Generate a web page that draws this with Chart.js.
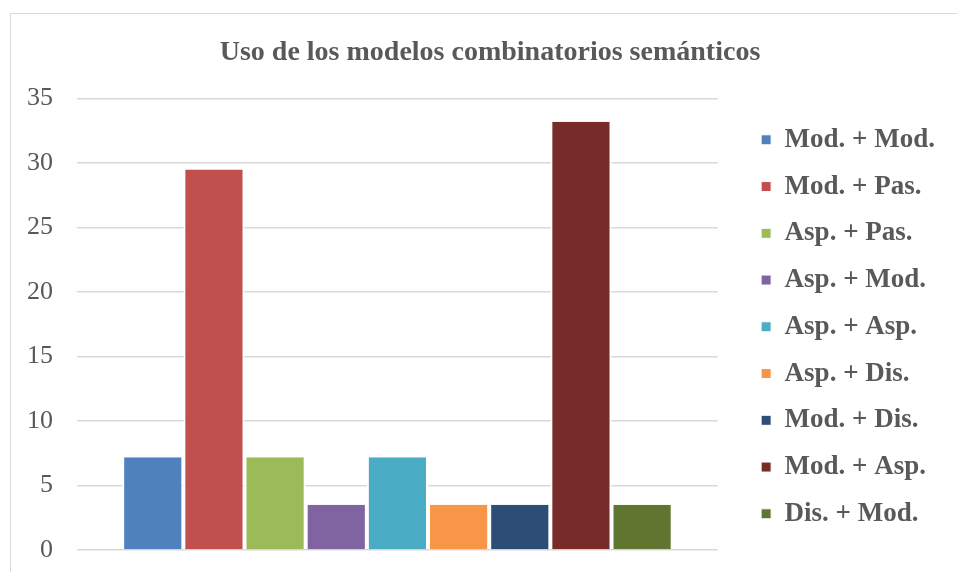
<!DOCTYPE html>
<html><head><meta charset="utf-8">
<script src="https://cdn.jsdelivr.net/npm/chart.js@4/dist/chart.umd.min.js"></script>
<style>
html,body{margin:0;padding:0;background:#fff;}
#wrap{position:relative;width:957px;height:572px;overflow:hidden;}
#frame{position:absolute;left:10px;top:13px;width:1000px;height:600px;border:1px solid #d9d9d9;box-sizing:border-box;}
canvas{position:absolute;left:0;top:0;}
</style></head>
<body><div id="wrap"><div id="frame"></div><canvas id="c" width="957" height="572"></canvas></div>
<script>
const title = 'Uso de los modelos combinatorios semánticos';
const categories = [''];
const seriesNames = ['Mod. + Mod.','Mod. + Pas.','Asp. + Pas.','Asp. + Mod.','Asp. + Asp.','Asp. + Dis.','Mod. + Dis.','Mod. + Asp.','Dis. + Mod.'];
const seriesValues = [7.2, 29.5, 7.2, 3.5, 7.2, 3.5, 3.5, 33.2, 3.5];
const seriesColors = ['#4F81BD','#C0504D','#9BBB59','#8064A2','#4BACC6','#F79646','#2C4D75','#772C2A','#5F7530'];
const yTicks = [0,5,10,15,20,25,30,35];

const SERIF = '"Liberation Serif","Times New Roman",serif';

const datasets = seriesNames.map((n,i)=>({
  label:n, data:[seriesValues[i]], backgroundColor:seriesColors[i],
  borderColor:'#ffffff', borderWidth:{left:2,right:2,top:0,bottom:0},
  categoryPercentage:0.859, barPercentage:1.0, xAxisID:'x', yAxisID:'y'
}));

const layoutTweaks = {
  id:'layoutTweaks',
  beforeLayout(chart){
    const lg = chart.legend;
    if(!lg || lg._patched) return;
    const orig = lg.fit.bind(lg);
    lg.fit = function(){
      orig();
      const p = this.options.labels.padding;
      if (this.columnSizes && this.columnSizes.length) {
        this.width = this.columnSizes.reduce((a,c)=>a+c.width+p,0);
      }
    };
    lg._patched = true;
  },
  afterLayout(chart){
    const t = chart.titleBlock;
    if (t) { const c = (t.left + t.right)/2, d = 490 - c; t.left += d; t.right += d; }
    const lg = chart.legend;
    if (lg) {
      lg.top = chart.chartArea.top + 2.5; lg.bottom = chart.chartArea.bottom + 2.5;
      lg.height = lg.bottom - lg.top;
      if (lg.adjustHitBoxes) lg.adjustHitBoxes();
    }
  }
};

new Chart(document.getElementById('c'),{
  type:'bar',
  data:{labels:categories, datasets},
  plugins:[layoutTweaks],
  options:{
    responsive:false, animation:false,
    layout:{padding:{left:27,right:22,top:26,bottom:0}},
    plugins:{
      title:{display:true,text:title,color:'#595959',
        font:{family:SERIF,size:28,weight:'bold'},
        padding:{top:10,bottom:29}},
      legend:{position:'right',align:'center',
        labels:{color:'#595959',boxWidth:10,boxHeight:10,padding:19.75,
          font:{family:SERIF,size:27,weight:'bold'}}},
      tooltip:{enabled:false}
    },
    scales:{
      x:{display:false, offset:true},
      y:{min:0,max:35,
        afterBuildTicks:(s)=>{s.ticks=yTicks.map(v=>({value:v}));},
        afterFit:(s)=>{s.width=50; s.paddingBottom=22; s.paddingTop=0;},
        grid:{color:'#d9d9d9',lineWidth:1.5,drawTicks:false},
        border:{display:false},
        ticks:{padding:24,color:'#595959',font:{family:SERIF,size:26}}},
      gap:{type:'linear',position:'right',display:true,
        grid:{display:false},border:{display:false},ticks:{display:false},
        afterFit:(s)=>{s.width=23.5;}}
    }
  }
});
</script></body></html>
